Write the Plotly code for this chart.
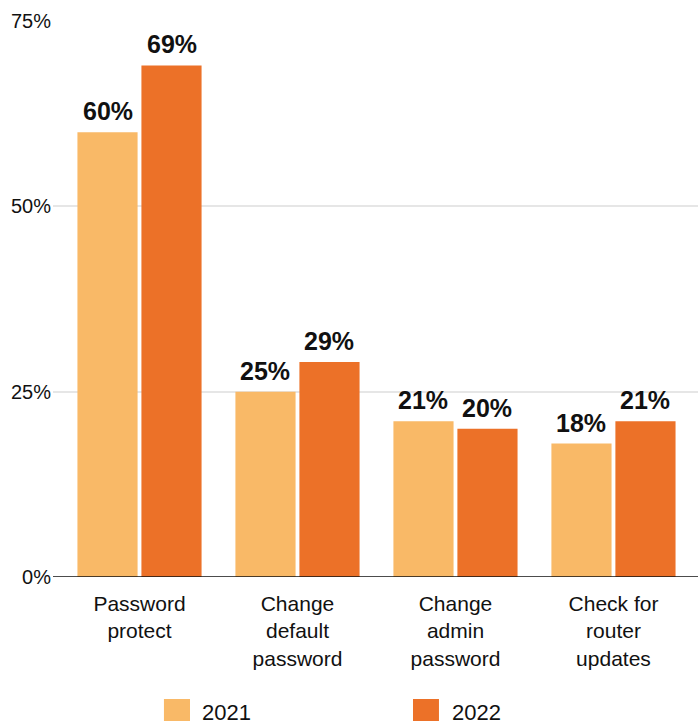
import plotly.graph_objects as go

categories = ["Password<br>protect", "Change<br>default<br>password",
              "Change<br>admin<br>password", "Check for<br>router<br>updates"]
years = ["2021", "2022"]
values_2021 = [60, 25, 21, 18]
values_2022 = [69, 29, 20, 21]
y_ticks = [0, 25, 50, 75]
y_tick_labels = ["0%", "25%", "50%", "75%"]

colors = {"2021": "#F9B967", "2022": "#EC7128"}
series = {"2021": values_2021, "2022": values_2022}
FONT = "Liberation Sans, Arial, sans-serif"

fig = go.Figure()
for yr in years:
    fig.add_trace(go.Bar(
        x=list(range(len(categories))), y=series[yr], name=yr,
        marker=dict(color=colors[yr], line=dict(width=0)),
        showlegend=False, hoverinfo="skip",
    ))

# value labels above each bar
offsets = {"2021": -32, "2022": 32}
annotations = []
for yr in years:
    for i, v in enumerate(series[yr]):
        annotations.append(dict(
            x=i, y=v, xref="x", yref="y", text=f"<b>{v}%</b>",
            showarrow=False, xanchor="center", yanchor="bottom",
            xshift=offsets[yr], yshift=5,
            font=dict(family=FONT, size=25, color="#111111"),
        ))

# hand-built legend below the chart
legend_items = [("2021", 0.172, 0.2124, 0.2279), ("2022", 0.5581, 0.5984, 0.6155)]
shapes = []
for yr, x0, x1, xt in legend_items:
    shapes.append(dict(type="rect", xref="paper", yref="paper",
                       x0=x0, x1=x1, y0=-0.266, y1=-0.2194,
                       fillcolor=colors[yr], line=dict(width=0)))
    annotations.append(dict(x=xt, y=-0.2446, xref="paper", yref="paper",
                            text=yr, showarrow=False, xanchor="left", yanchor="middle",
                            font=dict(family=FONT, size=22, color="#111111")))

# baseline extends across the full plot width
shapes.append(dict(type="line", xref="paper", yref="y", x0=0, x1=1, y0=0, y1=0,
                   line=dict(color="#111111", width=1.5)))

fig.update_layout(
    width=698, height=721,
    margin=dict(l=53, r=0, t=21, b=144),
    paper_bgcolor="white", plot_bgcolor="white",
    barmode="group", bargap=0.19, bargroupgap=0.06,
    font=dict(family=FONT, size=19, color="#111111"),
    annotations=annotations, shapes=shapes,
    xaxis=dict(
        tickmode="array", tickvals=list(range(len(categories))), ticktext=categories,
        range=[-0.5475, 3.535], showgrid=False, zeroline=False, showline=False,
        ticks="", tickfont=dict(size=21), ticklabelstandoff=12, fixedrange=True,
    ),
    yaxis=dict(
        tickmode="array", tickvals=y_ticks, ticktext=y_tick_labels,
        range=[0, 75], showgrid=True, gridcolor="#E6E6E6", gridwidth=2,
        zeroline=False, showline=False, ticks="", ticklabelstandoff=1,
        tickfont=dict(size=20), fixedrange=True,
    ),
)

fig.write_html("out.html")
